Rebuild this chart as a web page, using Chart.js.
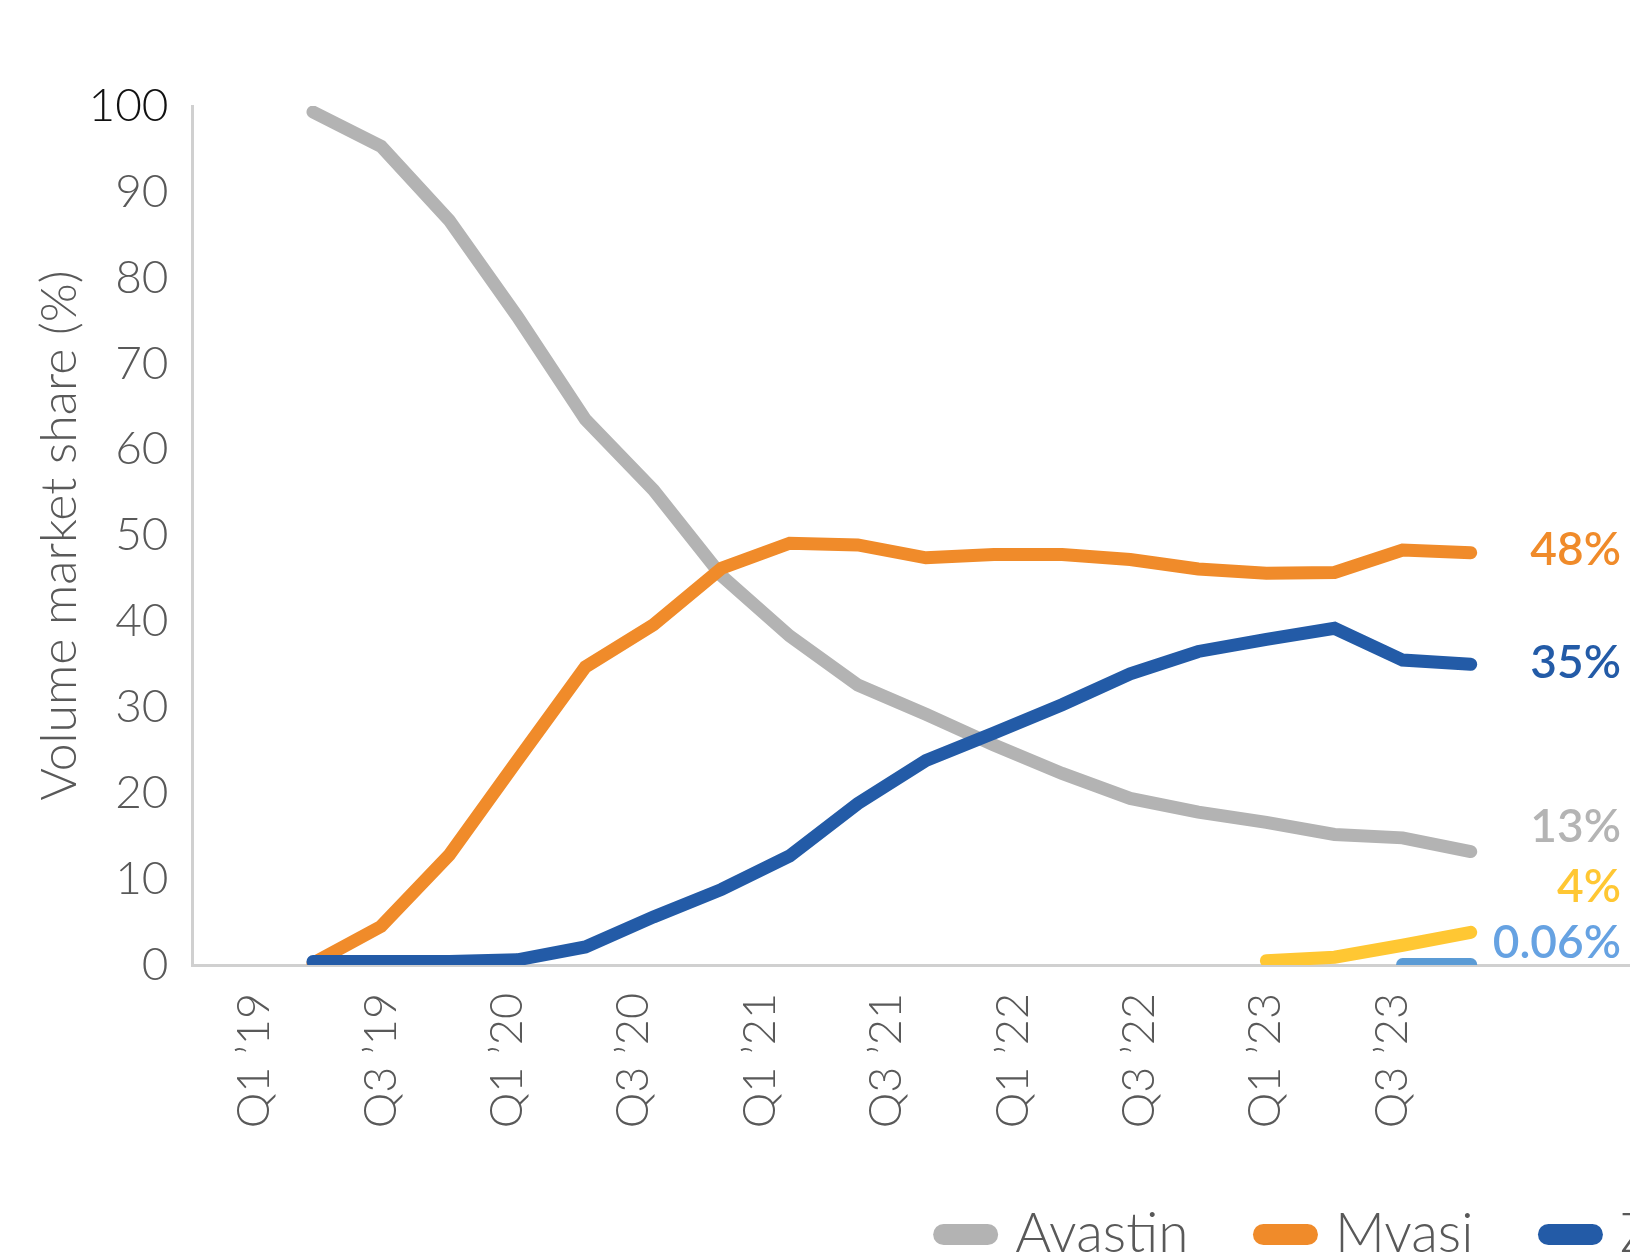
<!DOCTYPE html>
<html>
<head>
<meta charset="utf-8">
<script src="https://cdn.jsdelivr.net/npm/chart.js"></script>
<style>
  html, body { margin: 0; padding: 0; background: #fff; overflow: hidden; }
  #wrap { position: relative; height: 1260px; }
</style>
</head>
<body>
<div id="wrap"><canvas id="shareChart"></canvas></div>
<script>
// quarters plotted (one point each)
const quarters = ['Q2 ’19', 'Q3 ’19', 'Q4 ’19', 'Q1 ’20', 'Q2 ’20', 'Q3 ’20', 'Q4 ’20', 'Q1 ’21', 'Q2 ’21',
  'Q3 ’21', 'Q4 ’21', 'Q1 ’22', 'Q2 ’22', 'Q3 ’22', 'Q4 ’22', 'Q1 ’23', 'Q2 ’23', 'Q3 ’23'];
const tickLabels = ['Q1 ’19', 'Q3 ’19', 'Q1 ’20', 'Q3 ’20', 'Q1 ’21', 'Q3 ’21', 'Q1 ’22', 'Q3 ’22', 'Q1 ’23', 'Q3 ’23'];
const seriesNames = ['Avastin', 'Mvasi', 'Zirabev', 'Alymsys', 'Vegzelma'];

const avastin = [99.3, 95.3, 86.7, 75.5, 63.5, 55.3, 45.3, 38.3, 32.6, 29.2, 25.6, 22.3, 19.4, 17.8, 16.6, 15.2, 14.8, 13.2];
const mvasi = [0.2, 4.5, 12.8, 23.8, 34.7, 39.6, 46.2, 49.1, 48.9, 47.4, 47.8, 47.8, 47.2, 46.1, 45.6, 45.7, 48.3, 48.0];
const zirabev = [0.4, 0.4, 0.4, 0.6, 2.1, 5.6, 8.8, 12.7, 18.8, 23.8, 27.0, 30.3, 33.9, 36.5, 37.9, 39.2, 35.5, 35.0];
const alymsys = [null, null, null, null, null, null, null, null, null, null, null, null, null, null, 0.5, 0.9, 2.3, 3.8];
const vegzelma = [null, null, null, null, null, null, null, null, null, null, null, null, null, null, null, null, 0.06, 0.06];

const series = [avastin, mvasi, zirabev, alymsys, vegzelma];
const lineColors = ['#b3b3b3', '#f08b2a', '#235ba7', '#ffc733', '#5b9bd5'];
const labelColors = ['#b4b4b4', '#f08b2a', '#235ba7', '#ffc733', '#66a2e2'];
// end labels are lifted off their lines where they would collide
const labelNudge = [-24, -3, -1, -45, -21];

// legend sits centred on a wider canvas, which the page crops at 1630px
const LEGEND_FONT = 55, BOX_W = 44, ITEM_PAD = 75;
const mctx = document.createElement('canvas').getContext('2d');
mctx.font = 'normal 300 ' + LEGEND_FONT + 'px Lato';
let legendLine = 0;
seriesNames.forEach(n => { legendLine += BOX_W + LEGEND_FONT / 2 + mctx.measureText(n).width + ITEM_PAD; });
const W = Math.round(2 * 943.5 + legendLine - ITEM_PAD);
document.getElementById('wrap').style.width = W + 'px';

// axis ranges so that points / ticks land where the original put them
const PLOT_LEFT = 192, PLOT_RIGHT = W, PLOT_BOTTOM = 965, PAD_BOTTOM = -12;
const dataX0 = 313, dataStep = 68.1;
const tickX0 = 254.7, tickStep = 126.4;
const legendHeight = LEGEND_FONT + ITEM_PAD + 10;

const endLabels = {
  id: 'endLabels',
  afterDatasetsDraw(chart) {
    const ctx = chart.ctx;
    const yScale = chart.scales.y;
    ctx.save();
    ctx.font = 'normal 600 46px Lato';
    ctx.textAlign = 'right';
    ctx.textBaseline = 'middle';
    series.forEach((vals, i) => {
      const last = vals[vals.length - 1];
      const txt = (last >= 1 ? Math.round(last) : last) + '%';
      ctx.fillStyle = labelColors[i];
      ctx.fillText(txt, 1621, yScale.getPixelForValue(last) + labelNudge[i]);
    });
    ctx.restore();
  }
};

new Chart(document.getElementById('shareChart'), {
  type: 'line',
  data: {
    datasets: series.map((vals, i) => ({
      label: seriesNames[i],
      data: vals.map((v, q) => ({ x: q, y: v })),
      xAxisID: 'xd',
      yAxisID: 'y',
      borderColor: lineColors[i],
      backgroundColor: lineColors[i],
      borderWidth: 13,
      borderCapStyle: 'round',
      borderJoinStyle: 'miter',
      pointRadius: 0,
      pointHoverRadius: 0,
      tension: 0,
      fill: false,
      order: series.length - i
    }))
  },
  options: {
    responsive: true,
    maintainAspectRatio: false,
    animation: false,
    layout: { padding: { top: 106, right: 0, bottom: PAD_BOTTOM, left: 0 } },
    plugins: {
      tooltip: { enabled: false },
      legend: {
        position: 'bottom',
        labels: {
          usePointStyle: true,
          pointStyle: 'line',
          pointStyleWidth: BOX_W,
          padding: ITEM_PAD,
          color: '#595959',
          font: { family: 'Lato', weight: 300, size: LEGEND_FONT },
          generateLabels: chart => Chart.defaults.plugins.legend.labels.generateLabels(chart)
            .sort((a, b) => a.datasetIndex - b.datasetIndex)
            .map(item => Object.assign(item, { pointStyle: 'line', lineWidth: 21, lineCap: 'round' }))
        }
      }
    },
    scales: {
      xd: {
        type: 'linear',
        display: false,
        min: (PLOT_LEFT - dataX0) / dataStep,
        max: (PLOT_RIGHT - dataX0) / dataStep
      },
      x: {
        type: 'linear',
        position: 'bottom',
        min: (PLOT_LEFT - tickX0) / tickStep,
        max: (PLOT_RIGHT - tickX0) / tickStep,
        grid: { display: false, drawTicks: false },
        border: { display: true, color: '#d0d0d0', width: 3 },
        afterBuildTicks: s => { s.ticks = tickLabels.map((_, i) => ({ value: i })); },
        afterFit: s => { s.height = 1260 - PAD_BOTTOM - legendHeight - PLOT_BOTTOM; },
        ticks: {
          autoSkip: false,
          minRotation: 90,
          maxRotation: 90,
          padding: 28,
          color: '#595959',
          font: { family: 'Lato', weight: 300, size: 45 },
          callback: (v, i) => tickLabels[i]
        }
      },
      y: {
        min: 0,
        max: 100,
        grid: { display: false, drawTicks: false },
        border: { display: true, color: '#d0d0d0', width: 3 },
        afterFit: s => { s.width = PLOT_LEFT; },
        ticks: {
          stepSize: 10,
          padding: 23.5,
          color: c => (c.tick && c.tick.value === 100 ? '#111111' : '#595959'),
          font: { family: 'Lato', weight: 300, size: 46 }
        },
        title: {
          display: true,
          text: 'Volume market share (%)',
          color: '#595959',
          font: { family: 'Lato', weight: 300, size: 50 },
          padding: { top: 30, bottom: 0 }
        }
      }
    }
  },
  plugins: [endLabels]
});
</script>
</body>
</html>
